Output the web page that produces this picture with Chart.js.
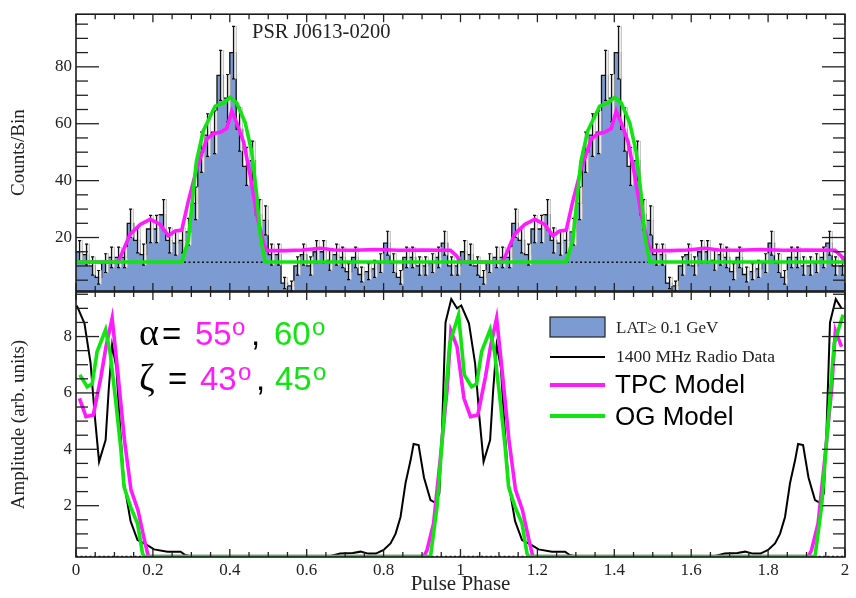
<!DOCTYPE html>
<html><head><meta charset="utf-8">
<script src="https://cdn.jsdelivr.net/npm/chart.js@4.4.0/dist/chart.umd.min.js"></script>
<style>
html,body{margin:0;padding:0;background:#fff;}
#wrap{position:relative;width:856px;height:598px;background:#fff;}
canvas{position:absolute;left:0;top:0;}
</style></head><body>
<div id="wrap"><canvas id="cTop" width="856" height="598"></canvas><canvas id="cBot" width="856" height="598"></canvas></div>
<script>
// ---------------- DATA ----------------
const binsPerCycle = 60;
const counts = [15,14,10,6,11,13,13,13,25,19,14,23,23,28,19,18,19,22,32,50,
                56,57,77,69,85,58,45,47,28,26,14,14,4,3,10,14,10,15,15,12,
                14,13,8,13,7,8,9,11,18,11,6,13,13,10,10,11,13,18,10,10];
const countErrors = [3.9,3.7,3.2,2.4,3.3,3.6,3.6,3.6,5.0,4.4,3.7,4.8,4.8,5.3,4.4,4.2,4.4,4.7,5.7,7.1,
                     7.5,7.5,8.8,8.3,9.2,7.6,6.7,6.9,5.3,5.1,3.7,3.7,2.0,1.7,3.2,3.7,3.2,3.9,3.9,3.5,
                     3.7,3.6,2.8,3.6,2.6,2.8,3.0,3.3,4.2,3.3,2.4,3.6,3.6,3.2,3.2,3.3,3.6,4.2,3.2,3.2];
const backgroundLevel = 11.3;

const tpcTopPhase = [0,0.11,0.141,0.167,0.193,0.219,0.24,0.258,0.275,0.292,0.314,0.34,0.358,0.375,0.392,0.405,0.418,0.436,0.453,0.47,0.488,0.497,0.545,0.589,0.636,0.672,0.72,0.78,0.84,0.9,0.974,0.99];
const tpcTopValue = [11.4,11.4,21.2,24.6,26.4,24.6,20.6,22.3,22.6,32.7,44.2,54.6,56.6,57,58.3,64.4,60.4,53.5,41.9,28.1,17.7,15.4,15.4,15.6,16.2,15.6,15.5,15.8,15.5,15.6,15.5,13.5];
const ogTopPhase = [0,0.275,0.292,0.313,0.331,0.362,0.384,0.401,0.418,0.44,0.457,0.47,0.479,0.492];
const ogTopValue = [11.4,11.4,18.9,46.6,57.5,66.2,67.3,69.3,67.3,60.4,50,35,21,11.4];

const radioPhase = [0.002,0.022,0.038,0.049,0.06,0.077,0.085,0.094,0.105,0.115,0.125,0.142,0.16,0.181,0.203,0.238,0.272,0.284,0.297,0.4,0.5,0.6,0.66,0.687,0.72,0.74,0.76,0.78,0.8,0.818,0.831,0.844,0.857,0.87,0.878,0.891,0.905,0.922,0.935,0.945,0.952,0.961,0.976,0.991];
const radioValue = [9.1,8.47,7.05,5.16,3.56,4.33,6.1,7.7,6.9,4.7,2.8,1.45,0.78,0.64,0.45,0.37,0.37,0.25,0.21,0.21,0.21,0.21,0.21,0.3,0.32,0.37,0.3,0.3,0.43,0.66,1.0,1.6,2.8,3.6,4.19,4.15,3.0,2.2,2.1,2.44,4.7,8.5,9.33,9.0];
const tpcPhase = [0.009,0.026,0.045,0.065,0.078,0.094,0.108,0.126,0.143,0.161,0.178,0.188,0.905,0.913,0.93,0.948,0.965,0.975,0.991];
const tpcValue = [5.81,5.16,5.22,6.58,7.64,8.65,6.82,4.33,2.56,1.85,0.78,0.2,0.2,0.43,1.37,3.74,6.1,8.2,7.64];
const ogPhase = [0.01,0.029,0.042,0.055,0.077,0.089,0.103,0.116,0.125,0.142,0.16,0.173,0.177,0.922,0.939,0.957,0.972,0.995];
const ogValue = [6.64,6.22,6.32,7.47,8.24,7.4,5.75,4.1,2.67,1.96,1.37,0.31,0.2,0.2,1.96,5.16,7.76,8.77];
const radioZeroLevel = 0.2;

const xTickValues = [0,0.2,0.4,0.6,0.8,1,1.2,1.4,1.6,1.8,2];
const xTickLabels = ['0','0.2','0.4','0.6','0.8','1','1.2','1.4','1.6','1.8','2'];
const topYTicks = [20,40,60,80];
const botYTicks = [2,4,6,8];

// ---------------- helpers ----------------
function twoCycles(ph, val, closeAt2){
  const pts=[];
  for(let c=0;c<2;c++) for(let i=0;i<ph.length;i++) pts.push({x:ph[i]+c,y:val[i]});
  if(closeAt2) pts.push({x:2,y:val[0]});
  return pts;
}
const histPts=[];
for(let c=0;c<2;c++) for(let k=0;k<binsPerCycle;k++) histPts.push({x:(c*binsPerCycle+k)/binsPerCycle,y:counts[k]});
histPts.push({x:2,y:counts[binsPerCycle-1]});

const SERIF='"Liberation Serif","Times New Roman",serif';
const SANS='"Liberation Sans",Arial,sans-serif';
const MAG='#ff1aff', GRN='#11e411', BLUE='#7b9bd2';

const framePlugin={
  id:'frame',
  afterDraw(chart,args,o){
    const {ctx,chartArea:a,scales:{x,y}}=chart;
    ctx.save();
    ctx.strokeStyle='#222';ctx.lineWidth=1.3;
    const ln=(x1,y1,x2,y2)=>{ctx.beginPath();ctx.moveTo(x1,y1);ctx.lineTo(x2,y2);ctx.stroke();};
    for(let i=0;i<=40;i++){
      const v=i*0.05, px=x.getPixelForValue(v);
      const L=(i%4===0)?8:5;
      ln(px,a.top,px,a.top+L); ln(px,a.bottom,px,a.bottom-L);
    }
    const n=Math.round(y.max/o.minor);
    for(let i=1;i<=n;i++){
      const v=i*o.minor; if(v<y.min||v>y.max) continue;
      const py=y.getPixelForValue(v);
      const L=(i%o.ratio===0)?23:12;
      ln(a.left,py,a.left+L,py); ln(a.right,py,a.right-L,py);
    }
    ctx.lineWidth=1.6;ctx.strokeStyle='#1a1a1a';
    ctx.strokeRect(a.left,a.top,a.width,a.height);
    ctx.restore();
  }
};

const errPlugin={
  id:'errbars',
  afterDatasetDraw(chart,args){
    if(args.index!==0) return;
    const {ctx,scales:{x,y}}=chart;
    ctx.save();
    for(let c=0;c<2;c++) for(let k=0;k<binsPerCycle;k++){
      const xc=Math.round(x.getPixelForValue((c*binsPerCycle+k+0.5)/binsPerCycle))+0.5;
      const y1=y.getPixelForValue(counts[k]-countErrors[k]);
      const y2=y.getPixelForValue(counts[k]+countErrors[k]);
      ctx.fillStyle='rgba(238,238,238,0.92)';
      ctx.fillRect(xc+0.5,y2,2.5,y1-y2);
      ctx.strokeStyle='#aaa';ctx.lineWidth=0.6;
      ctx.strokeRect(xc+0.5,y2,2.5,y1-y2);
      ctx.strokeStyle='#111';ctx.lineWidth=1.2;
      ctx.beginPath();ctx.moveTo(xc,y1);ctx.lineTo(xc,y2);
      ctx.moveTo(xc-1.5,y1);ctx.lineTo(xc+1.5,y1);
      ctx.moveTo(xc-1.5,y2);ctx.lineTo(xc+1.5,y2);ctx.stroke();
    }
    ctx.restore();
  }
};

const topText={
  id:'topText',
  afterDraw(chart){
    const ctx=chart.ctx;ctx.save();
    ctx.font='20.5px '+SERIF;ctx.fillStyle='#222';ctx.textBaseline='alphabetic';
    ctx.fillText('PSR J0613-0200',252,38);
    ctx.restore();
  }
};

const botText={
  id:'botText',
  afterDraw(chart){
    const ctx=chart.ctx;ctx.save();ctx.textBaseline='alphabetic';
    const put=(t,x,y,font,col)=>{ctx.font=font;ctx.fillStyle=col;ctx.fillText(t,x,y);};
    const big='33px '+SANS, sup='24px '+SANS, greek='38px '+SERIF;
    put('α',139,345,greek,'#000'); put('=',162,345,big,'#000');
    put('55',195,345,big,MAG); put('o',232,335,sup,MAG);
    put(',',251,345,big,'#000'); put('60',274,345,big,GRN); put('o',312,335,sup,GRN);
    put('ζ',139,390,greek,'#000'); put('=',168,390,big,'#000');
    put('43',200,390,big,MAG); put('o',238,380,sup,MAG);
    put(',',256,390,big,'#000'); put('45',275,390,big,GRN); put('o',313,380,sup,GRN);
    // legend
    ctx.fillStyle=BLUE;ctx.fillRect(550,317,55,20);
    ctx.strokeStyle='#222';ctx.lineWidth=1.2;ctx.strokeRect(550,317,55,20);
    const seg=(yy,col,w)=>{ctx.strokeStyle=col;ctx.lineWidth=w;ctx.beginPath();ctx.moveTo(550,yy);ctx.lineTo(605,yy);ctx.stroke();};
    seg(357,'#000',2); seg(385,MAG,4); seg(416,GRN,4);
    put('LAT\u2265 0.1 GeV',616,333,'17px '+SERIF,'#222');
    put('1400 MHz Radio Data',616,362,'17.5px '+SERIF,'#222');
    put('TPC Model',615,393,'26px '+SANS,'#000');
    put('OG Model',615,425,'26px '+SANS,'#000');
    ctx.restore();
  }
};

const lineDs=(pts,col,w,order,extra)=>Object.assign({data:pts,borderColor:col,borderWidth:w,pointRadius:0,tension:0,fill:false,order},extra||{});

const xAxisBase={type:'linear',min:0,max:2,
  afterBuildTicks:s=>{s.ticks=xTickValues.map(v=>({value:v}));},
  grid:{display:false,drawTicks:false},border:{display:false}};

// ---------------- TOP CHART ----------------
new Chart(document.getElementById('cTop'),{
  type:'line',
  data:{datasets:[
    lineDs(histPts,'#111',1.3,4,{stepped:'before',fill:'start',backgroundColor:BLUE}),
    lineDs([{x:0,y:backgroundLevel},{x:2,y:backgroundLevel}],'#111',1.6,3,{borderDash:[2,2.5]}),
    lineDs(twoCycles(tpcTopPhase,tpcTopValue,true),MAG,3.6,2),
    lineDs(twoCycles(ogTopPhase,ogTopValue,true),GRN,3.6,1)
  ]},
  options:{responsive:false,animation:false,devicePixelRatio:1,
    layout:{padding:{top:10,right:11,bottom:307,left:0}},
    plugins:{legend:{display:false},tooltip:{enabled:false},frame:{minor:5,ratio:4}},
    scales:{
      x:Object.assign({},xAxisBase,{ticks:{display:false},afterFit:s=>{s.height=0;}}),
      y:{type:'linear',min:1.2,max:98.5,
        afterBuildTicks:s=>{s.ticks=topYTicks.map(v=>({value:v}));},
        afterFit:s=>{s.width=76;},
        grid:{display:false,drawTicks:false},border:{display:false},
        ticks:{padding:4,color:'#222',font:{family:SERIF,size:17}},
        title:{display:true,text:'Counts/Bin',color:'#222',font:{family:SERIF,size:19},padding:{top:8,bottom:0}}}
    }},
  plugins:[framePlugin,errPlugin,topText]
});

// ---------------- BOTTOM CHART ----------------
new Chart(document.getElementById('cBot'),{
  type:'line',
  data:{datasets:[
    lineDs([{x:0,y:radioZeroLevel},{x:2,y:radioZeroLevel}],'#111',1.6,4,{borderDash:[2,2.5]}),
    lineDs(twoCycles(radioPhase,radioValue,false),'#000',2,3),
    lineDs(twoCycles(tpcPhase,tpcValue,false),MAG,3.6,2),
    lineDs(twoCycles(ogPhase,ogValue,false),GRN,3.6,1)
  ]},
  options:{responsive:false,animation:false,devicePixelRatio:1,
    layout:{padding:{top:292,right:11,bottom:0,left:0}},
    plugins:{legend:{display:false},tooltip:{enabled:false},frame:{minor:0.5,ratio:4}},
    scales:{
      x:Object.assign({},xAxisBase,{
        afterFit:s=>{s.height=41;},
        ticks:{padding:3,color:'#222',font:{family:SERIF,size:17},maxRotation:0,autoSkip:false,
          callback:(v,i)=>xTickLabels[i]},
        title:{display:true,text:'Pulse Phase',color:'#222',font:{family:SERIF,size:21},padding:{top:0,bottom:1}}}),
      y:{type:'linear',min:0.18,max:9.58,
        afterBuildTicks:s=>{s.ticks=botYTicks.map(v=>({value:v}));},
        afterFit:s=>{s.width=76;},
        grid:{display:false,drawTicks:false},border:{display:false},
        ticks:{padding:4,color:'#222',font:{family:SERIF,size:17}},
        title:{display:true,text:'Amplitude (arb. units)',color:'#222',font:{family:SERIF,size:19},padding:{top:8,bottom:0}}}
    }},
  plugins:[framePlugin,botText]
});
</script></body></html>
